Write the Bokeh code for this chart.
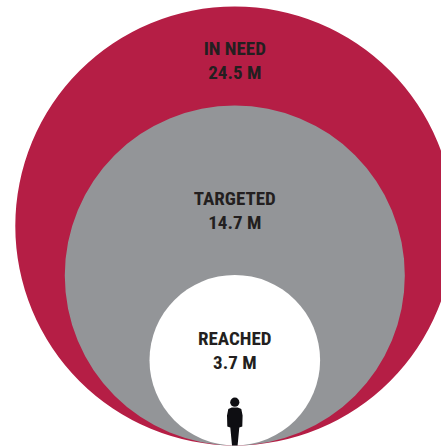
import math
from bokeh.plotting import figure
from bokeh.models import ColumnDataSource, Range1d
from bokeh.core.properties import value
from bokeh.embed import file_html
from bokeh.resources import INLINE

categories = ["IN NEED", "TARGETED", "REACHED"]
people_m = [24.5, 14.7, 3.7]
colors = ["#B51E45", "#939598", "#FFFFFF"]
text_color = "#231F20"

W, H = 441, 448
CX, BOTTOM = 234.3, 445.0
K = 219.5 / math.sqrt(people_m[0])  # radius scale: area proportional to people

radii = [K * math.sqrt(v) for v in people_m]
ys = [BOTTOM - r for r in radii]
xs = [CX] * 3
src = ColumnDataSource(dict(x=xs, y=ys, r=radii, c=colors))

p = figure(width=W, height=H, x_range=Range1d(0, W), y_range=Range1d(H, 0),
           output_backend="svg", toolbar_location=None, min_border=0)
p.axis.visible = False
p.grid.visible = False
p.outline_line_color = None
p.background_fill_color = "#FFFFFF"
p.border_fill_color = "#FFFFFF"

p.circle("x", "y", radius="r", fill_color="c", line_color=None, source=src)

label_y1 = [y - r + off for y, r, off in zip(ys, radii, [41.5, 93.5, 63.5])]
label_y2 = [y + 24 for y in label_y1]
font = value("Roboto Condensed")
p.text([CX] * 3, label_y1, text=categories, text_font=font, text_font_style="bold",
       text_font_size="19px", text_align="center", text_baseline="middle", text_color=text_color)
p.text([CX] * 3, label_y2, text=[f"{v} M" for v in people_m], text_font=font, text_font_style="bold",
       text_font_size="19px", text_align="center", text_baseline="middle", text_color=text_color)

head_y = BOTTOM - 43.3
p.circle([CX], [head_y], radius=4.6, fill_color="#0E0E12", line_color=None)
dx = [-3, 3, 6.5, 7.8, 7.5, 4.5, 2.8, -2.8, -4.5, -7.5, -7.8, -6.5]
dy = [-38, -38, -36.5, -30, -19, -18, 0, 0, -18, -19, -30, -36.5]
p.patch([CX + d for d in dx], [BOTTOM + d for d in dy], fill_color="#0E0E12", line_color=None)

open("out.html", "w").write(file_html(p, INLINE))
